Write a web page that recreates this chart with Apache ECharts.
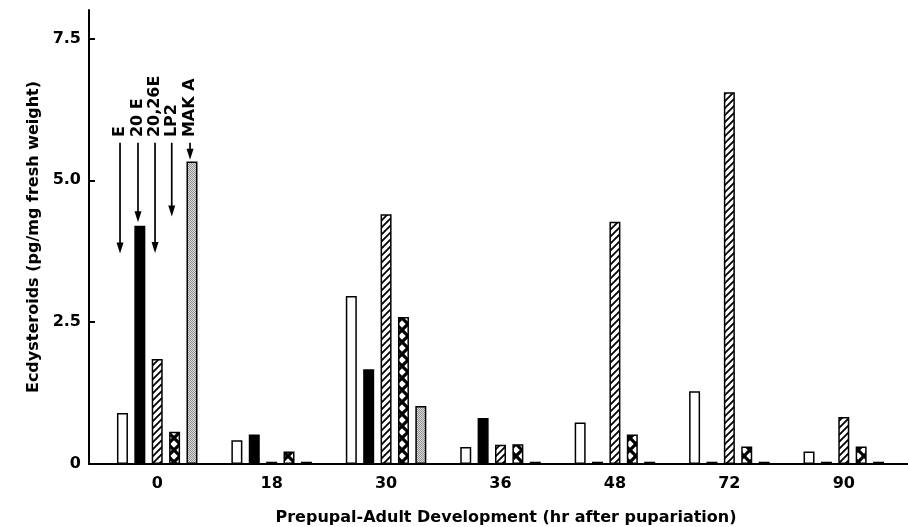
<!DOCTYPE html>
<html><head><meta charset="utf-8">
<script src="https://cdn.jsdelivr.net/npm/echarts@6/dist/echarts.min.js"></script>
<style>html,body{margin:0;padding:0;background:#fff}#c{width:908px;height:527px}</style>
</head><body><div id="c"></div>
<script>
// ---- data ----
const categories = ['0', '18', '30', '36', '48', '72', '90'];
const seriesNames = ['E', '20 E', '20,26E', 'LP2', 'MAK A'];
const valE     = [0.90, 0.42, 2.96, 0.30, 0.73, 1.28, 0.22];
const val20E   = [4.20, 0.52, 1.67, 0.81, 0.04, 0.04, 0.04];
const val2026E = [1.85, 0.04, 4.40, 0.34, 4.27, 6.55, 0.83];
const valLP2   = [0.57, 0.22, 2.59, 0.35, 0.52, 0.31, 0.31];
const valMAKA  = [5.33, 0.04, 1.02, 0.04, 0.04, 0.04, 0.04];
const yTicks = [0, 2.5, 5, 7.5];
const xTitle = 'Prepupal-Adult Development (hr after pupariation)';
const yTitle = 'Ecdysteroids (pg/mg fresh weight)';
// annotation arrows over the 0 h group (x in category units, y in data units)
const annoLabels = ['E', '20 E', '20,26E', 'LP2', 'MAK A'];
const annoX      = [-0.325, -0.168, -0.019, 0.127, 0.287];
const annoStart  = [5.66, 5.66, 5.66, 5.66, 5.66];
const annoTip    = [3.71, 4.26, 3.72, 4.36, 5.36];
const annoText   = [5.76, 5.76, 5.76, 5.76, 5.76];

// ---- patterns ----
function tile(w, h, draw) {
  const c = document.createElement('canvas'); c.width = w; c.height = h;
  const g = c.getContext('2d'); draw(g, w, h); return c;
}
const hatch = tile(7, 7, (g, w, h) => {
  g.fillStyle = '#fff'; g.fillRect(0, 0, w, h);
  g.strokeStyle = '#000'; g.lineWidth = 1.8;
  g.beginPath();
  g.moveTo(-1, h + 1); g.lineTo(w + 1, -1);
  g.moveTo(-1, 1); g.lineTo(1, -1);
  g.moveTo(w - 1, h + 1); g.lineTo(w + 1, h - 1);
  g.stroke();
});
const cross = tile(12, 12, (g, w, h) => {
  g.fillStyle = '#fff'; g.fillRect(0, 0, w, h);
  g.strokeStyle = '#000'; g.lineWidth = 3.2;
  g.beginPath();
  g.moveTo(-2, -2); g.lineTo(w + 2, h + 2);
  g.moveTo(w + 2, -2); g.lineTo(-2, h + 2);
  g.stroke();
});
const stipple = tile(2, 2, (g) => {
  g.fillStyle = '#dadada'; g.fillRect(0, 0, 2, 2);
  g.fillStyle = '#909090'; g.fillRect(0, 0, 1, 1); g.fillRect(1, 1, 1, 1);
});
const fills = ['#ffffff', '#000000',
  { image: hatch, repeat: 'repeat' },
  { image: cross, repeat: 'repeat' },
  { image: stipple, repeat: 'repeat' }];
const values = [valE, val20E, val2026E, valLP2, valMAKA];

const FONT = 'DejaVu Sans';
const Y0 = 0, YMAX = 8;

const barSeries = seriesNames.map((n, i) => ({
  name: n, type: 'bar', xAxisIndex: 0, yAxisIndex: 0,
  data: values[i], barWidth: 11, barGap: '58%',
  itemStyle: { color: fills[i], borderColor: '#000', borderWidth: 1.5 },
  animation: false
}));

const annoData = annoLabels.map((l, i) => [annoX[i], annoStart[i], annoTip[i], annoText[i]]);

const option = {
  backgroundColor: '#fff',
  animation: false,
  grid: [
    { left: 100, right: 7, top: 10, bottom: 63, containLabel: false, outerBoundsMode: 'none' },
    { left: 89, right: 0, top: 10, bottom: 63, containLabel: false, outerBoundsMode: 'none' }
  ],
  xAxis: [
    { type: 'category', gridIndex: 0, data: categories, boundaryGap: true,
      axisLine: { show: false }, axisTick: { show: false },
      axisLabel: { color: '#000', fontFamily: FONT, fontWeight: 'bold', fontSize: 16, margin: 12 },
      name: xTitle, nameLocation: 'middle', nameGap: 46,
      nameTextStyle: { color: '#000', fontFamily: FONT, fontWeight: 'bold', fontSize: 16, padding: [0, 0, 0, 11] } },
    { type: 'value', gridIndex: 1, min: 0, max: 1, show: true,
      axisLine: { show: true, lineStyle: { color: '#000', width: 2 } },
      axisTick: { show: false }, axisLabel: { show: false }, splitLine: { show: false } },
    { type: 'value', gridIndex: 0, min: -0.5, max: categories.length - 0.5, show: false, position: 'top' }
  ],
  yAxis: [
    { type: 'value', gridIndex: 0, min: Y0, max: YMAX, show: false, splitLine: { show: false } },
    { type: 'value', gridIndex: 1, min: Y0, max: YMAX,
      axisLine: { show: true, lineStyle: { color: '#000', width: 2 } },
      axisTick: { show: true, inside: true, length: 6, customValues: yTicks, lineStyle: { color: '#000', width: 2 } },
      axisLabel: { customValues: yTicks, color: '#000', fontFamily: FONT, fontWeight: 'bold', fontSize: 16, margin: 8,
        formatter: v => v === 0 ? '0' : v.toFixed(1) },
      splitLine: { show: false },
      name: yTitle, nameLocation: 'middle', nameGap: 37, nameRotate: 90,
      nameTextStyle: { color: '#000', fontFamily: FONT, fontWeight: 'bold', fontSize: 16 } }
  ],
  series: barSeries.concat([{
    type: 'custom', xAxisIndex: 2, yAxisIndex: 0, clip: false, silent: true,
    encode: { x: 0, y: [1, 2, 3] },
    data: annoData,
    renderItem: function (params, api) {
      const x = api.value(0);
      const p1 = api.coord([x, api.value(1)]);
      const p2 = api.coord([x, api.value(2)]);
      const pt = api.coord([x, api.value(3)]);
      const label = annoLabels[params.dataIndex];
      return { type: 'group', children: [
        { type: 'line', shape: { x1: p1[0], y1: p1[1], x2: p2[0], y2: p2[1] - 8 },
          style: { stroke: '#000', lineWidth: 1.7 } },
        { type: 'polygon', shape: { points: [[p2[0] - 3.5, p2[1] - 11], [p2[0] + 3.5, p2[1] - 11], [p2[0], p2[1]]] },
          style: { fill: '#000' } },
        { type: 'text', x: pt[0], y: pt[1], rotation: Math.PI / 2,
          style: { text: label, x: 0, y: 0, align: 'left', verticalAlign: 'middle',
            font: 'bold 16px "DejaVu Sans"', fill: '#000' } }
      ] };
    }
  }])
};
const chart = echarts.init(document.getElementById('c'), null, { renderer: 'canvas' });
chart.setOption(option);
</script>
</body></html>
